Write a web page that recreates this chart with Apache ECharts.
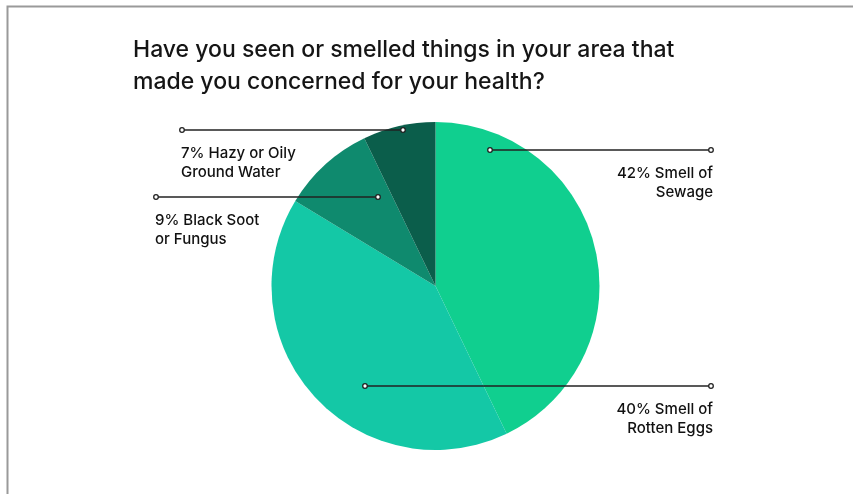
<!DOCTYPE html>
<html><head><meta charset="utf-8">
<script src="https://cdn.jsdelivr.net/npm/echarts@6/dist/echarts.min.js"></script>
<style>html,body{margin:0;padding:0;background:#fff;}#c{width:853px;height:494px;}</style>
</head><body><div id="c"></div>
<script>
var categories = ['Smell of\nSewage', 'Smell of\nRotten Eggs', 'Black Soot\nor Fungus', 'Hazy or Oily\nGround Water'];
var values = [42, 40, 9, 7];
var labelTexts = ['42% Smell of\nSewage', '40% Smell of\nRotten Eggs', '9% Black Soot\nor Fungus', '7% Hazy or Oily\nGround Water'];
var colors = ['#10CF8F', '#14C8A6', '#0F8A6E', '#0B5E4B'];

// annotation line layout: [innerX, outerX, lineY, side]
var lines = [
  [490, 711, 150, 'right'],
  [365, 711, 386, 'right'],
  [378, 156, 197, 'left'],
  [403, 182, 130, 'left']
];

var chart = echarts.init(document.getElementById('c'));
var font = 'Inter, "Noto Sans", sans-serif';
var graphics = [
  {type:'polyline', shape:{points:[[7.5,494],[7.5,6.5],[853,6.5]]}, style:{stroke:'#9a9a9a', lineWidth:2, fill:null}, silent:true},
  {type:'text', left:133, top:34, style:{text:'Have you seen or smelled things in your area that\nmade you concerned for your health?', font:'500 23px ' + font, fill:'#151515', lineHeight:32}}
];
lines.forEach(function(l){
  graphics.push({type:'line', shape:{x1:l[0], y1:l[2], x2:l[1], y2:l[2]}, style:{stroke:'#222', lineWidth:1.5}, z:99});
  [l[0], l[1]].forEach(function(x){
    graphics.push({type:'circle', shape:{cx:x, cy:l[2], r:2.3}, style:{fill:'#fff', stroke:'#222', lineWidth:1.3}, z:100});
  });
});

chart.setOption({
  animation:false,
  backgroundColor:'#fff',
  graphic: graphics,
  series:[{
    type:'pie',
    center:[435.5, 286],
    radius:[0, 164],
    startAngle:90,
    clockwise:true,
    data: categories.map(function(c,i){return {name:c, value:values[i], itemStyle:{color:colors[i]}};}),
    label:{
      show:true,
      formatter:function(p){return labelTexts[p.dataIndex];},
      fontFamily:font, fontSize:15, fontWeight:500, color:'#111', lineHeight:19
    },
    labelLine:{show:false},
    labelLayout:function(p){
      var l = lines[p.dataIndex];
      var right = l[3] === 'right';
      return {
        x: right ? l[1] + 2 : l[1] - 1,
        y: l[2] + 14,
        align: right ? 'right' : 'left',
        verticalAlign:'top'
      };
    }
  }]
});
</script></body></html>
